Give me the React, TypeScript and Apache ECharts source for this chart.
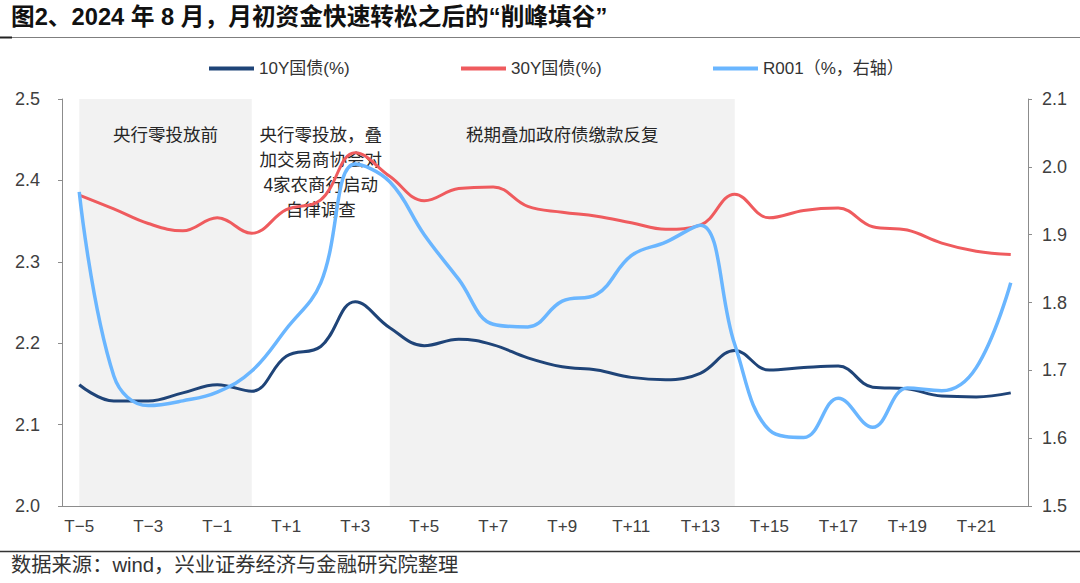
import { useEffect, useRef } from "react";
import * as echarts from "echarts";

const categories = [
  "T−5", "T−4", "T−3", "T−2", "T−1", "T",
  "T+1", "T+2", "T+3", "T+4", "T+5", "T+6", "T+7", "T+8", "T+9", "T+10",
  "T+11", "T+12", "T+13", "T+14", "T+15", "T+16", "T+17", "T+18", "T+19", "T+20",
  "T+21", "T+22",
];

const y10 = [
  2.149, 2.129, 2.129, 2.139, 2.149, 2.141, 2.184, 2.196, 2.251, 2.219,
  2.197, 2.205, 2.198, 2.182, 2.171, 2.167, 2.158, 2.155, 2.163, 2.191,
  2.167, 2.170, 2.172, 2.146, 2.144, 2.135, 2.134, 2.139,
];

const y30 = [
  2.382, 2.365, 2.347, 2.338, 2.354, 2.335, 2.364, 2.376, 2.434, 2.405,
  2.375, 2.390, 2.392, 2.368, 2.361, 2.356, 2.348, 2.340, 2.345, 2.383,
  2.354, 2.363, 2.366, 2.343, 2.339, 2.323, 2.313, 2.309,
];

const r001 = [
  1.963, 1.692, 1.648, 1.655, 1.668, 1.699, 1.761, 1.829, 2.004, 1.978,
  1.900, 1.834, 1.768, 1.764, 1.802, 1.812, 1.869, 1.889, 1.914, 1.738,
  1.612, 1.601, 1.659, 1.616, 1.674, 1.670, 1.704, 1.829,
];

const leftTicks = { min: 2.0, max: 2.5, interval: 0.1 };
const rightTicks = { min: 1.5, max: 2.1, interval: 0.1 };

const seriesNames = ["10Y国债(%)", "30Y国债(%)", "R001（%，右轴）"];
const colors = ["#1F4478", "#EF5B5E", "#6AB6FF"];

const periods = [
  { from: "T−5", to: "T", label: "央行零投放前", shade: "#F2F2F2" },
  { from: "T", to: "T+4", label: "央行零投放，叠\n加交易商协会对\n4家农商行启动\n自律调查", shade: "rgba(0,0,0,0)" },
  { from: "T+4", to: "T+14", label: "税期叠加政府债缴款反复", shade: "#F2F2F2" },
];

const FONT = "'Liberation Sans', Arial, 'Noto Sans CJK SC', sans-serif";

export default function App() {
  const chartRef = useRef<HTMLDivElement>(null);

  useEffect(() => {
    if (!chartRef.current) return;
    const chart = echarts.init(chartRef.current, undefined, { renderer: "svg" });

    const legendLeft = [209, 461, 713];

    const option: echarts.EChartsOption = {
      animation: false,
      textStyle: { fontFamily: FONT },
      legend: seriesNames.map((name, i) => ({
        data: [name],
        left: legendLeft[i],
        top: 60,
        padding: 0,
        itemWidth: 45,
        itemHeight: 4,
        itemGap: 0,
        icon: "rect",
        textStyle: { fontSize: 17, color: "#333", fontFamily: FONT },
        selectedMode: false,
      })),
      grid: { left: 62, right: 52, top: 99, bottom: 77 },
      xAxis: {
        type: "category",
        data: categories,
        boundaryGap: true,
        axisLine: { lineStyle: { color: "#8C8C8C", width: 1 } },
        axisTick: { show: false },
        axisLabel: { interval: 1, fontSize: 17, color: "#404040", margin: 12, fontFamily: FONT },
      },
      yAxis: [
        {
          type: "value",
          ...leftTicks,
          axisLine: { show: true, lineStyle: { color: "#8C8C8C" } },
          axisTick: { show: true, length: 4, lineStyle: { color: "#8C8C8C" } },
          splitLine: { show: false },
          axisLabel: { fontSize: 18, color: "#404040", margin: 22, formatter: (v: number) => v.toFixed(1), fontFamily: FONT },
        },
        {
          type: "value",
          ...rightTicks,
          position: "right",
          axisLine: { show: true, lineStyle: { color: "#8C8C8C" } },
          axisTick: { show: true, length: 4, lineStyle: { color: "#8C8C8C" } },
          splitLine: { show: false },
          axisLabel: { fontSize: 18, color: "#404040", margin: 14, formatter: (v: number) => v.toFixed(1), fontFamily: FONT },
        },
      ],
      series: [
        {
          name: seriesNames[0],
          type: "line",
          data: y10,
          yAxisIndex: 0,
          smooth: 0.4,
          symbol: "none",
          z: 3,
          lineStyle: { color: colors[0], width: 3 },
          itemStyle: { color: colors[0] },
          markArea: {
            silent: true,
            data: periods.map((p) => [
              {
                xAxis: p.from,
                itemStyle: { color: p.shade },
                label: {
                  show: true,
                  position: "insideTop",
                  distance: 23,
                  formatter: p.label,
                  color: "#262626",
                  fontSize: 17.5,
                  lineHeight: 25,
                  align: "center",
                  fontFamily: FONT,
                },
              },
              { xAxis: p.to },
            ]) as any,
          },
        },
        {
          name: seriesNames[1],
          type: "line",
          data: y30,
          yAxisIndex: 0,
          smooth: 0.4,
          symbol: "none",
          z: 3,
          lineStyle: { color: colors[1], width: 3 },
          itemStyle: { color: colors[1] },
        },
        {
          name: seriesNames[2],
          type: "line",
          data: r001,
          yAxisIndex: 1,
          smooth: 0.4,
          symbol: "none",
          z: 3,
          lineStyle: { color: colors[2], width: 3.5 },
          itemStyle: { color: colors[2] },
        },
      ],
      graphic: [
        {
          type: "text",
          left: 11,
          top: 5,
          style: {
            text: "图2、2024 年 8 月，月初资金快速转松之后的“削峰填谷”",
            fontSize: 23.7,
            fontWeight: "bold",
            fill: "#111",
            fontFamily: FONT,
          },
        },
        {
          type: "line",
          shape: { x1: 0, y1: 37.5, x2: 1080, y2: 37.5 },
          style: { stroke: "#7F7F7F", lineWidth: 1 },
        },
        {
          type: "line",
          shape: { x1: 0, y1: 37.5, x2: 12, y2: 37.5 },
          style: { stroke: "#222", lineWidth: 2 },
        },
        {
          type: "line",
          shape: { x1: 0, y1: 551.5, x2: 1080, y2: 551.5 },
          style: { stroke: "#333", lineWidth: 1.5 },
        },
        {
          type: "text",
          left: 11,
          top: 555,
          style: {
            text: "数据来源：wind，兴业证券经济与金融研究院整理",
            fontSize: 20.3,
            fill: "#333",
            fontFamily: FONT,
          },
        },
      ],
    };

    chart.setOption(option);
    return () => chart.dispose();
  }, []);

  return (
    <div
      ref={chartRef}
      style={{ position: "absolute", left: 0, top: 0, width: 1080, height: 583, background: "#fff" }}
    />
  );
}
